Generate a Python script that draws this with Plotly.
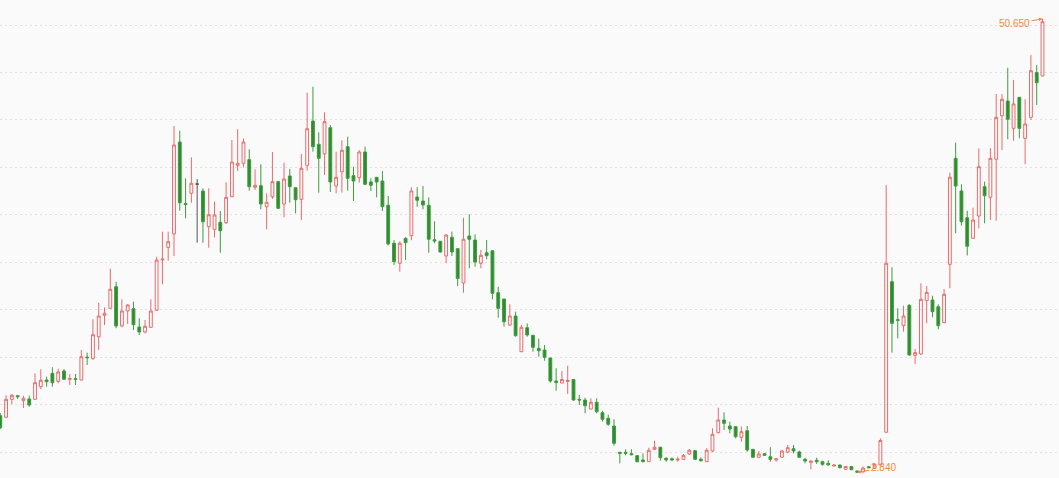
import plotly.graph_objects as go

# ---- data ----
open_ = [8.83, 8.66, 10.55, 10.93, 10.41, 10.59, 10.55, 11.88, 12.59, 13.29,
         12.45, 13.54, 12.66, 12.73, 12.59, 15.01, 14.87, 17.15, 19.41, 20.14,
         22.42, 18.28, 19.86, 20.10, 18.17, 17.65, 18.14, 19.93, 25.25, 26.57,
         27.98, 37.67, 31.19, 32.26, 33.24, 32.51, 28.74, 28.47, 29.21, 29.17,
         31.91, 35.21, 35.43, 35.81, 32.90, 33.07, 30.85, 31.91, 33.49, 31.14,
         34.09, 32.85, 31.63, 35.21, 39.88, 37.43, 36.41, 39.18, 33.03, 34.54,
         37.18, 34.12, 33.91, 36.62, 33.46, 33.95, 33.56, 31.00, 27.00, 24.89,
         27.52, 27.80, 31.87, 31.45, 31.00, 27.37, 27.21, 25.66, 27.63, 26.43,
         22.81, 27.76, 27.34, 24.89, 26.00, 26.21, 21.79, 21.12, 18.38, 19.33,
         15.57, 18.10, 17.30, 15.93, 15.75, 14.91, 12.48, 12.27, 12.43, 12.64,
         10.55, 10.48, 9.53, 10.24, 9.14, 8.55, 7.74, 4.97, 4.97, 4.82,
         4.61, 4.16, 3.98, 5.28, 5.50, 4.34, 4.29, 4.16, 4.23, 4.79,
         5.14, 4.23, 3.98, 5.11, 7.03, 8.37, 7.74, 7.67, 6.55, 7.24,
         5.28, 4.44, 4.82, 4.50, 4.16, 4.44, 5.00, 5.35, 5.00, 4.23,
         3.91, 4.13, 3.98, 3.81, 3.52, 3.63, 3.18, 3.47, 3.00, 2.89,
         3.45, 3.28, 3.63, 7.08, 22.95, 18.94, 18.31, 20.46, 15.19, 15.33,
         20.95, 21.02, 20.31, 18.63, 24.78, 35.95, 32.51, 29.69, 27.52, 29.87,
         32.96, 31.84, 35.85, 40.44, 41.99, 39.11, 42.38, 38.06, 40.27, 45.00,
         44.63]
high = [9.11, 10.98, 11.11, 10.98, 10.93, 10.93, 13.29, 13.72, 12.94, 13.93,
        13.78, 13.75, 13.22, 13.22, 15.75, 15.47, 18.99, 20.73, 20.25, 24.32,
        22.95, 21.09, 20.60, 20.84, 19.09, 18.91, 21.09, 25.58, 28.22, 28.22,
        39.36, 38.86, 33.84, 36.06, 33.77, 32.79, 32.79, 31.38, 30.40, 33.42,
        37.88, 39.01, 38.06, 36.90, 34.79, 35.32, 32.26, 36.62, 33.59, 35.49,
        34.83, 32.88, 36.41, 42.87, 43.50, 38.69, 40.80, 39.46, 36.65, 37.85,
        38.23, 35.07, 36.80, 37.18, 33.84, 33.98, 34.61, 31.98, 27.34, 27.21,
        27.63, 32.90, 32.90, 33.03, 31.84, 29.31, 27.24, 27.98, 28.22, 26.46,
        29.69, 30.05, 27.94, 26.29, 27.34, 26.29, 22.42, 21.15, 20.57, 19.79,
        18.42, 18.56, 17.33, 16.94, 16.28, 14.94, 13.82, 13.54, 14.10, 12.67,
        11.01, 10.72, 10.66, 10.66, 9.35, 8.93, 8.45, 4.99, 5.28, 5.28,
        4.68, 4.86, 5.45, 6.19, 5.56, 4.44, 4.44, 4.50, 4.79, 5.32,
        5.21, 4.44, 5.39, 7.50, 9.67, 9.18, 8.19, 7.70, 7.67, 7.74,
        5.30, 5.11, 4.89, 5.50, 4.31, 5.21, 5.74, 5.74, 5.14, 4.40,
        4.08, 4.40, 4.08, 4.13, 3.65, 3.65, 3.49, 3.52, 3.03, 3.47,
        3.50, 3.75, 6.44, 33.14, 24.47, 20.14, 20.42, 20.57, 15.86, 22.78,
        22.49, 21.47, 20.57, 22.18, 34.44, 37.60, 33.21, 30.43, 30.75, 37.01,
        33.49, 37.01, 42.73, 42.73, 45.50, 44.21, 42.41, 42.17, 46.84, 45.79,
        50.65]
low = [7.42, 8.64, 10.03, 10.59, 9.64, 9.77, 10.50, 11.61, 11.88, 11.88,
       12.24, 12.59, 12.06, 12.06, 12.55, 14.17, 14.70, 15.75, 18.38, 20.10,
       18.04, 18.14, 18.49, 17.86, 17.33, 17.51, 18.10, 19.90, 22.67, 25.16,
       25.66, 30.43, 29.63, 31.27, 27.06, 27.06, 26.53, 27.63, 26.00, 29.03,
       31.88, 34.61, 35.00, 32.54, 32.61, 30.58, 28.47, 31.66, 30.65, 29.74,
       31.27, 30.16, 29.45, 34.65, 36.65, 32.33, 34.19, 32.40, 32.26, 32.33,
       32.54, 31.45, 33.38, 33.18, 32.51, 31.84, 30.40, 26.78, 24.71, 24.00,
       25.23, 27.31, 30.85, 30.58, 26.00, 27.00, 26.00, 24.89, 25.66, 22.49,
       21.79, 24.36, 24.53, 24.36, 25.31, 21.09, 19.15, 18.21, 18.31, 17.15,
       15.54, 17.15, 15.57, 15.04, 14.62, 12.30, 11.46, 12.24, 11.11, 10.41,
       9.95, 9.08, 9.50, 9.08, 8.19, 7.77, 5.66, 3.80, 4.65, 4.65,
       3.91, 3.91, 3.95, 5.21, 4.08, 3.98, 4.05, 3.98, 4.16, 4.68,
       4.16, 3.98, 3.95, 4.97, 6.97, 7.32, 6.97, 6.44, 6.09, 5.03,
       4.42, 4.42, 4.58, 3.98, 3.98, 4.40, 4.86, 4.86, 4.40, 3.81,
       3.18, 3.74, 3.56, 3.52, 3.50, 3.28, 3.13, 3.10, 2.84, 2.86,
       3.28, 3.25, 3.60, 7.05, 15.47, 16.98, 17.68, 15.15, 14.27, 15.22,
       18.56, 19.20, 17.93, 18.56, 22.25, 28.05, 28.85, 25.71, 27.49, 28.58,
       29.10, 29.45, 29.38, 36.83, 37.96, 37.81, 38.06, 35.32, 39.99, 41.57,
       44.60]
close = [7.56, 10.55, 10.98, 10.83, 10.66, 9.95, 12.30, 12.56, 12.41, 12.30,
         13.43, 12.66, 12.73, 12.66, 15.04, 14.94, 17.36, 19.33, 19.62, 22.15,
         18.28, 19.86, 20.49, 18.42, 17.65, 18.25, 19.86, 25.23, 25.32, 27.16,
         37.35, 31.27, 31.08, 33.32, 33.24, 29.27, 30.01, 29.98, 28.32, 31.84,
         35.56, 35.43, 37.67, 32.96, 33.11, 31.14, 31.32, 33.49, 30.68, 33.77,
         32.96, 31.59, 34.90, 39.07, 37.18, 35.95, 39.81, 33.46, 33.95, 36.80,
         33.84, 33.56, 36.62, 33.21, 33.11, 33.46, 30.85, 26.92, 25.06, 27.00,
         27.06, 32.51, 31.53, 31.03, 27.42, 27.24, 26.08, 27.87, 26.08, 23.28,
         27.42, 27.42, 25.02, 25.73, 25.69, 21.73, 20.14, 18.73, 19.33, 17.26,
         18.14, 17.33, 16.03, 15.68, 14.98, 12.48, 12.32, 12.64, 12.54, 10.48,
         10.48, 9.88, 10.24, 9.25, 8.45, 7.92, 5.92, 4.86, 4.86, 4.72,
         3.98, 3.98, 5.18, 5.50, 4.40, 4.16, 4.16, 4.23, 4.65, 5.18,
         4.23, 4.08, 5.18, 6.87, 8.37, 8.02, 7.42, 6.61, 7.14, 5.21,
         4.44, 4.79, 4.65, 4.23, 4.29, 5.11, 5.45, 5.11, 4.44, 4.05,
         4.05, 3.98, 3.70, 3.66, 3.63, 3.35, 3.47, 3.13, 2.86, 3.31,
         3.35, 3.70, 6.21, 24.89, 18.56, 18.88, 19.33, 15.22, 15.47, 21.09,
         21.83, 19.79, 18.31, 21.62, 33.95, 33.03, 29.27, 26.68, 29.45, 35.07,
         32.01, 35.95, 40.27, 42.17, 40.06, 41.68, 39.11, 39.57, 45.19, 43.92,
         50.35]
doji_idx = [34]          # open == close candle drawn in grey
max_label = "50.650"
min_label = "2.840"

# ---- style ----
RED = "#ec6a6a"
GREEN_LINE = "#3f9c3f"
GREEN_FILL = "#2e8b2e"
GREY = "#555555"
ORANGE = "#f08a3c"
BG = "#fafafa"

n = len(open_)
main = [i for i in range(n) if i not in doji_idx]

fig = go.Figure()
fig.add_trace(go.Candlestick(
    x=main,
    open=[open_[i] for i in main], high=[high[i] for i in main],
    low=[low[i] for i in main], close=[close[i] for i in main],
    increasing=dict(line=dict(color=RED, width=1), fillcolor="rgba(0,0,0,0)"),
    decreasing=dict(line=dict(color=GREEN_LINE, width=1), fillcolor=GREEN_FILL),
    whiskerwidth=0, showlegend=False, hoverinfo="skip"))
fig.add_trace(go.Candlestick(
    x=doji_idx,
    open=[open_[i] for i in doji_idx], high=[high[i] for i in doji_idx],
    low=[low[i] for i in doji_idx], close=[close[i] for i in doji_idx],
    increasing=dict(line=dict(color=GREY, width=1), fillcolor=GREY),
    decreasing=dict(line=dict(color=GREY, width=1), fillcolor=GREY),
    whiskerwidth=0, showlegend=False, hoverinfo="skip"))

imax = high.index(max(high))
imin = low.index(min(low))
fig.add_annotation(x=imax, y=high[imax], text=max_label, showarrow=True,
                   ax=-28, ay=5, arrowhead=2, arrowsize=0.7, arrowwidth=1,
                   arrowcolor=ORANGE, font=dict(color=ORANGE, size=10, family="Arial"))
fig.add_annotation(x=imin, y=low[imin], text=min_label, showarrow=True,
                   ax=26, ay=-5, arrowhead=2, arrowsize=0.7, arrowwidth=1,
                   arrowcolor=ORANGE, font=dict(color=ORANGE, size=10, family="Arial"))

fig.update_layout(
    width=1059, height=478,
    margin=dict(l=0, r=0, t=0, b=0),
    paper_bgcolor=BG, plot_bgcolor=BG,
    xaxis=dict(range=[-0.05, 182.85], showgrid=False, showticklabels=False,
               zeroline=False, showline=False, ticks="", rangeslider=dict(visible=False)),
    yaxis=dict(range=[2.26, 52.636], showgrid=True, gridcolor="#e0e0e0", griddash="2px,3px",
               gridwidth=1, dtick=5, tick0=0, showticklabels=False, zeroline=False,
               showline=False, ticks=""),
    showlegend=False,
)

fig.write_html(
    "out.html",
    config={"displayModeBar": False},
    post_script="document.body.style.margin='0';document.body.style.padding='0';"
                "document.body.style.background='" + BG + "';",
)
